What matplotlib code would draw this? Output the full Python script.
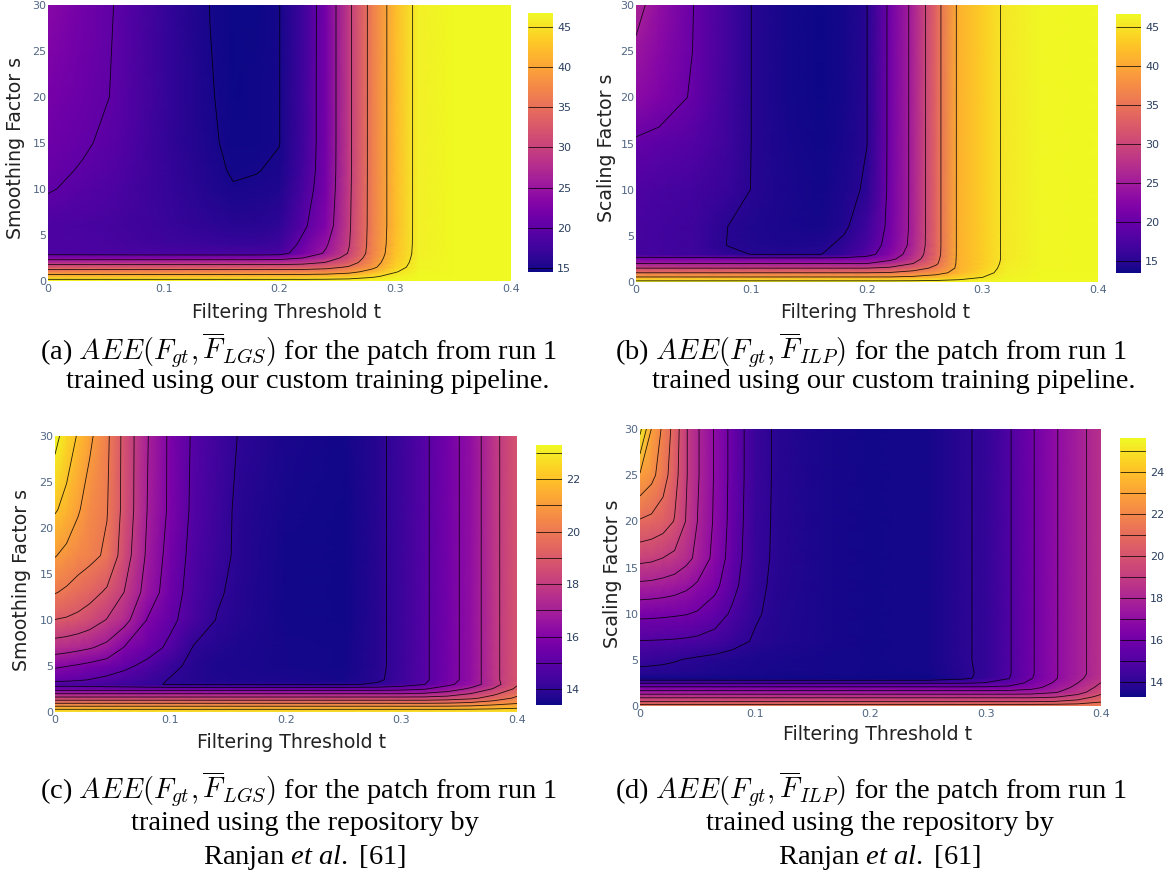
import numpy as np
import matplotlib
matplotlib.use("Agg")
import matplotlib.pyplot as plt

plt.rcParams['font.family'] = ['DejaVu Sans']
plt.rcParams['mathtext.rm'] = 'Liberation Serif'
plt.rcParams['mathtext.it'] = 'Liberation Serif:italic'
plt.rcParams['mathtext.bf'] = 'Liberation Serif:bold'

# ---------------- data: panel (a) ----------------
T_A = [0, 0.03, 0.06, 0.1, 0.14, 0.16, 0.18, 0.2, 0.22, 0.24, 0.26, 0.28, 0.3, 0.32, 0.35, 0.4]
S_A = [0, 0.5, 1, 1.5, 2, 2.5, 3, 4, 6, 10, 12, 15, 20, 30]
Z_A = [
    [46.7, 46.7, 46.7, 46.7, 46.7, 46.7, 46.7, 46.7, 46.7, 46.7, 46.7, 46.7, 46.7, 46.7, 46.7, 46.7],
    [42.0, 42.0, 42.0, 42.0, 42.0, 42.0, 42.0, 42.0, 42.0, 42.3, 43.0, 44.5, 46.0, 46.7, 46.7, 46.7],
    [37.3, 37.3, 37.3, 37.3, 37.3, 37.3, 37.3, 37.3, 37.3, 37.6, 38.7, 41.5, 44.8, 46.5, 46.7, 46.7],
    [32.6, 32.6, 32.6, 32.6, 32.6, 32.6, 32.6, 32.6, 32.8, 33.6, 35.5, 39.0, 43.8, 46.3, 46.7, 46.7],
    [28.0, 28.0, 28.0, 28.0, 28.0, 28.0, 28.0, 28.0, 28.6, 30.2, 33.0, 38.0, 43.2, 46.2, 46.7, 46.7],
    [23.3, 23.3, 23.3, 23.3, 23.3, 23.3, 23.3, 23.5, 25.0, 27.8, 31.5, 37.3, 42.8, 46.1, 46.7, 46.7],
    [18.7, 18.6, 18.5, 18.4, 18.3, 18.3, 18.3, 18.6, 22.0, 25.5, 30.3, 36.8, 42.5, 46.0, 46.7, 46.7],
    [18.6, 18.4, 18.2, 17.6, 17.2, 17.0, 17.0, 17.5, 20.8, 24.5, 29.8, 36.6, 42.2, 46.0, 46.7, 46.7],
    [18.6, 18.3, 18.0, 17.2, 16.3, 16.0, 16.0, 16.5, 19.3, 22.8, 29.5, 36.5, 42.0, 46.0, 46.7, 46.7],
    [20.2, 19.4, 18.5, 17.0, 15.6, 15.1, 15.2, 15.5, 18.2, 22.0, 29.3, 36.5, 42.0, 46.0, 46.7, 46.7],
    [20.6, 19.8, 18.9, 16.9, 15.4, 14.85, 14.95, 15.2, 17.8, 21.8, 29.2, 36.5, 42.0, 46.0, 46.7, 46.7],
    [21.2, 20.3, 19.3, 16.8, 15.2, 14.7, 14.75, 14.97, 17.6, 21.7, 29.2, 36.5, 42.0, 46.0, 46.7, 46.7],
    [22.0, 21.0, 19.7, 17.0, 15.1, 14.6, 14.65, 14.97, 17.6, 21.7, 29.2, 36.5, 42.0, 46.0, 46.7, 46.7],
    [23.5, 21.6, 19.8, 17.0, 14.97, 14.55, 14.6, 14.97, 17.5, 21.7, 29.2, 36.5, 42.0, 46.0, 46.7, 46.7],
]
LEVELS_A = [15, 20, 25, 30, 35, 40, 45]
CTICKS_A = [15, 20, 25, 30, 35, 40, 45]
RANGE_A = (14.5, 46.7)

# ---------------- data: panel (b) ----------------
T_B = [0, 0.02, 0.05, 0.08, 0.1, 0.13, 0.16, 0.18, 0.2, 0.22, 0.24, 0.26, 0.28, 0.3, 0.32, 0.35, 0.4]
S_B = [0, 0.5, 1, 1.5, 2, 2.5, 3, 4, 6, 10, 15, 20, 25, 30]
Z_B = [
    [46.5, 46.5, 46.5, 46.5, 46.5, 46.5, 46.5, 46.5, 46.5, 46.5, 46.5, 46.5, 46.5, 46.5, 46.6, 46.7, 46.7],
    [40.5, 40.5, 40.5, 40.5, 40.5, 40.5, 40.5, 40.5, 40.5, 40.5, 41.0, 42.0, 43.5, 45.0, 46.3, 46.7, 46.7],
    [35.0, 35.0, 35.0, 35.0, 35.0, 35.0, 35.0, 35.0, 35.0, 35.3, 36.5, 38.5, 41.5, 44.0, 46.0, 46.6, 46.7],
    [30.0, 30.0, 30.0, 30.0, 30.0, 30.0, 30.0, 30.0, 30.0, 30.8, 33.0, 36.0, 41.0, 43.5, 45.8, 46.5, 46.7],
    [25.0, 25.0, 25.0, 25.0, 25.0, 25.0, 25.0, 25.0, 25.0, 27.0, 30.0, 34.5, 41.0, 43.3, 45.6, 46.5, 46.7],
    [21.5, 21.5, 21.5, 21.5, 21.5, 21.5, 21.5, 21.5, 22.0, 24.0, 28.0, 34.0, 41.0, 43.2, 45.5, 46.5, 46.7],
    [17.2, 17.0, 16.5, 15.6, 14.95, 14.85, 14.95, 16.0, 18.5, 22.5, 27.0, 33.6, 41.0, 43.2, 45.5, 46.5, 46.7],
    [17.2, 17.0, 16.6, 14.9, 14.6, 14.4, 14.5, 15.5, 17.5, 21.5, 26.2, 33.5, 41.0, 43.2, 45.5, 46.5, 46.7],
    [17.3, 17.0, 16.5, 14.97, 14.5, 14.1, 14.0, 14.6, 16.5, 21.0, 26.0, 33.5, 41.0, 43.2, 45.5, 46.5, 46.7],
    [17.8, 17.5, 17.0, 16.0, 14.95, 14.2, 13.8, 14.3, 15.3, 20.8, 26.0, 33.5, 41.0, 43.2, 45.5, 46.5, 46.7],
    [19.5, 19.0, 18.2, 16.5, 14.98, 14.1, 13.7, 14.1, 14.98, 20.8, 26.0, 33.5, 41.0, 43.2, 45.5, 46.5, 46.7],
    [23.0, 21.8, 19.6, 16.7, 14.98, 14.0, 13.6, 14.0, 14.98, 20.8, 26.0, 33.5, 41.0, 43.2, 45.5, 46.5, 46.7],
    [24.5, 22.8, 19.9, 16.8, 14.98, 14.0, 13.6, 14.0, 14.98, 20.8, 26.0, 33.5, 41.0, 43.2, 45.5, 46.5, 46.7],
    [26.0, 23.5, 19.98, 16.8, 14.98, 14.0, 13.6, 14.0, 14.98, 20.8, 26.0, 33.5, 41.0, 43.2, 45.5, 46.5, 46.7],
]
LEVELS_B = [15, 20, 25, 30, 35, 40, 45]
CTICKS_B = [15, 20, 25, 30, 35, 40, 45]
RANGE_B = (13.5, 46.7)

# ---------------- data: panel (c) ----------------
T_C = [0, 0.01, 0.02, 0.03, 0.045, 0.06, 0.08, 0.1, 0.12, 0.14, 0.16, 0.2, 0.25, 0.28, 0.3, 0.32, 0.34, 0.36, 0.38, 0.4]
S_C = [0, 0.5, 1, 1.5, 2, 2.5, 3, 3.5, 5, 7, 10, 13, 17, 22, 30]
Z_C = [
    [22.85, 22.85, 22.85, 22.85, 22.85, 22.85, 22.85, 22.85, 22.85, 22.85, 22.85, 22.85, 22.85, 22.85, 22.85, 22.85, 22.85, 22.85, 22.85, 22.85],
    [21.4, 21.4, 21.4, 21.4, 21.4, 21.4, 21.4, 21.4, 21.4, 21.4, 21.4, 21.4, 21.4, 21.4, 21.4, 21.4, 21.4, 21.45, 21.6, 21.8],
    [19.83, 19.83, 19.83, 19.83, 19.83, 19.83, 19.83, 19.83, 19.83, 19.83, 19.83, 19.83, 19.83, 19.83, 19.83, 19.83, 19.9, 20.1, 20.5, 20.85],
    [18.35, 18.35, 18.35, 18.35, 18.35, 18.35, 18.35, 18.35, 18.35, 18.35, 18.35, 18.35, 18.35, 18.35, 18.35, 18.35, 18.5, 18.8, 19.4, 20.2],
    [16.97, 16.97, 16.97, 16.97, 16.97, 16.97, 16.97, 16.97, 16.97, 16.97, 16.97, 16.97, 16.97, 16.97, 16.97, 17.1, 17.4, 18.0, 18.8, 19.7],
    [15.6, 15.6, 15.6, 15.6, 15.6, 15.6, 15.6, 15.6, 15.6, 15.6, 15.6, 15.6, 15.6, 15.6, 15.7, 15.95, 16.5, 17.2, 18.1, 19.2],
    [14.6, 14.58, 14.55, 14.5, 14.4, 14.3, 14.1, 13.95, 13.9, 13.9, 13.9, 13.9, 13.9, 14.1, 14.5, 14.98, 15.8, 16.5, 17.6, 18.9],
    [15.25, 15.18, 15.1, 14.98, 14.8, 14.6, 14.3, 13.95, 13.8, 13.7, 13.65, 13.6, 13.55, 13.9, 14.3, 14.85, 15.6, 16.4, 17.73, 18.8],
    [16.15, 16.03, 15.9, 15.75, 15.5, 15.2, 14.75, 14.2, 13.8, 13.65, 13.6, 13.55, 13.5, 13.85, 14.28, 14.85, 15.6, 16.4, 17.73, 18.8],
    [17.5, 17.4, 17.25, 17.08, 16.75, 15.95, 15.4, 14.8, 13.95, 13.75, 13.65, 13.55, 13.5, 13.85, 14.28, 14.85, 15.6, 16.4, 17.73, 18.8],
    [18.98, 18.9, 18.75, 18.5, 17.95, 17.35, 15.95, 15.2, 14.55, 13.97, 13.75, 13.5, 13.45, 13.85, 14.28, 14.85, 15.6, 16.4, 17.73, 18.8],
    [20.05, 19.85, 19.6, 19.35, 18.85, 17.98, 16.6, 15.45, 14.6, 14.1, 13.8, 13.5, 13.45, 13.85, 14.28, 14.85, 15.6, 16.4, 17.73, 18.8],
    [21.05, 20.75, 20.45, 20.25, 19.85, 18.5, 16.83, 15.6, 14.7, 14.25, 13.85, 13.5, 13.45, 13.85, 14.28, 14.85, 15.6, 16.4, 17.73, 18.8],
    [22.1, 21.7, 21.1, 20.55, 20.05, 18.7, 16.98, 15.8, 14.8, 14.3, 13.85, 13.55, 13.45, 13.85, 14.28, 14.85, 15.6, 16.4, 17.73, 18.8],
    [23.3, 22.55, 21.9, 21.2, 20.2, 18.7, 17.05, 15.8, 14.86, 14.4, 13.95, 13.6, 13.5, 13.85, 14.28, 14.85, 15.6, 16.4, 17.73, 18.8],
]
LEVELS_C = [14, 15, 16, 17, 18, 19, 20, 21, 22, 23]
CTICKS_C = [14, 16, 18, 20, 22]
RANGE_C = (13.4, 23.3)

# ---------------- data: panel (d) ----------------
T_D = [0, 0.01, 0.02, 0.03, 0.04, 0.05, 0.065, 0.08, 0.1, 0.12, 0.16, 0.2, 0.25, 0.28, 0.3, 0.32, 0.34, 0.36, 0.38, 0.4]
S_D = [0, 0.5, 1, 1.5, 2, 2.5, 3, 3.5, 5, 7, 10, 13, 16, 20, 25, 30]
Z_D = [
    [21.6, 21.6, 21.6, 21.6, 21.6, 21.6, 21.6, 21.6, 21.6, 21.6, 21.6, 21.6, 21.6, 21.6, 21.6, 21.6, 21.6, 21.6, 21.6, 21.6],
    [19.9, 19.9, 19.9, 19.9, 19.9, 19.9, 19.9, 19.9, 19.9, 19.9, 19.9, 19.9, 19.9, 19.9, 19.9, 19.9, 19.9, 20.0, 20.3, 20.9],
    [18.75, 18.75, 18.75, 18.75, 18.75, 18.75, 18.75, 18.75, 18.75, 18.75, 18.75, 18.75, 18.75, 18.75, 18.75, 18.75, 18.75, 18.9, 19.4, 20.3],
    [17.4, 17.4, 17.4, 17.4, 17.4, 17.4, 17.4, 17.4, 17.4, 17.4, 17.4, 17.4, 17.4, 17.4, 17.4, 17.4, 17.5, 17.9, 18.6, 19.7],
    [16.2, 16.2, 16.2, 16.2, 16.2, 16.2, 16.2, 16.2, 16.2, 16.2, 16.2, 16.2, 16.2, 16.2, 16.2, 16.3, 16.7, 17.4, 18.3, 19.3],
    [14.9, 14.9, 14.9, 14.9, 14.9, 14.9, 14.9, 14.9, 14.9, 14.9, 14.9, 14.9, 14.9, 14.9, 15.05, 15.4, 16.3, 17.1, 18.0, 19.02],
    [13.4, 13.4, 13.4, 13.4, 13.4, 13.4, 13.38, 13.36, 13.35, 13.35, 13.33, 13.33, 13.33, 13.8, 14.3, 14.97, 15.97, 16.9, 17.8, 18.6],
    [13.75, 13.74, 13.72, 13.7, 13.68, 13.65, 13.6, 13.55, 13.5, 13.47, 13.45, 13.4, 13.4, 13.85, 14.15, 14.9, 15.9, 16.9, 17.7, 18.5],
    [14.25, 14.2, 14.15, 14.06, 13.95, 13.85, 13.75, 13.65, 13.55, 13.5, 13.45, 13.4, 13.45, 13.9, 14.15, 14.9, 15.9, 16.9, 17.7, 18.5],
    [14.96, 14.95, 14.93, 14.9, 14.85, 14.78, 14.6, 14.3, 13.9, 13.7, 13.5, 13.4, 13.45, 13.9, 14.15, 14.9, 15.9, 16.9, 17.7, 18.5],
    [16.25, 16.22, 16.18, 16.12, 16.05, 15.9, 15.5, 14.85, 14.1, 13.75, 13.5, 13.4, 13.45, 13.9, 14.15, 14.9, 15.9, 16.9, 17.7, 18.5],
    [17.75, 17.7, 17.6, 17.45, 17.2, 16.85, 16.25, 15.3, 14.2, 13.8, 13.5, 13.4, 13.45, 13.9, 14.15, 14.9, 15.9, 16.9, 17.7, 18.5],
    [19.3, 19.2, 18.98, 18.75, 18.3, 17.75, 16.7, 15.55, 14.25, 13.85, 13.5, 13.4, 13.45, 13.9, 14.15, 14.9, 15.9, 16.9, 17.7, 18.5],
    [20.9, 20.75, 20.5, 19.95, 18.95, 17.98, 16.85, 15.65, 14.3, 13.85, 13.5, 13.4, 13.45, 13.9, 14.15, 14.9, 15.9, 16.9, 17.7, 18.5],
    [22.9, 22.3, 21.45, 20.4, 19.1, 18.1, 16.9, 15.7, 14.35, 13.85, 13.5, 13.4, 13.45, 13.9, 14.15, 14.9, 15.9, 16.9, 17.7, 18.5],
    [25.3, 22.95, 21.8, 20.6, 19.1, 18.1, 16.9, 15.7, 14.35, 13.85, 13.5, 13.4, 13.45, 13.9, 14.15, 14.9, 15.9, 16.9, 17.7, 18.5],
]
LEVELS_D = [14, 15, 16, 17, 18, 19, 20, 21, 22, 23, 24, 25]
CTICKS_D = [14, 16, 18, 20, 22, 24]
RANGE_D = (13.3, 25.6)

X_TICKS = [0, 0.1, 0.2, 0.3, 0.4]
X_TICKLABELS = ['0', '0.1', '0.2', '0.3', '0.4']
Y_TICKS = [0, 5, 10, 15, 20, 25, 30]
XLABEL = 'Filtering Threshold t'
YLABELS = ['Smoothing Factor s', 'Scaling Factor s', 'Smoothing Factor s', 'Scaling Factor s']

CAPTIONS = [
    [r'(a) $AEE(F_{gt},\overline{F}_{LGS})$ for the patch from run 1',
     'trained using our custom training pipeline.'],
    [r'(b) $AEE(F_{gt},\overline{F}_{ILP})$ for the patch from run 1',
     'trained using our custom training pipeline.'],
    [r'(c) $AEE(F_{gt},\overline{F}_{LGS})$ for the patch from run 1',
     'trained using the repository by',
     r'Ranjan $\mathit{et\ al.}$ [61]'],
    [r'(d) $AEE(F_{gt},\overline{F}_{ILP})$ for the patch from run 1',
     'trained using the repository by',
     r'Ranjan $\mathit{et\ al.}$ [61]'],
]

# ---------------- layout (pixels) ----------------
W, H = 1176, 876
fig = plt.figure(figsize=(W / 100, H / 100), dpi=100)
fig.patch.set_facecolor('white')


def box(x0, y0, x1, y1):
    return [x0 / W, 1 - y1 / H, (x1 - x0) / W, (y1 - y0) / H]


panels = [
    dict(T=T_A, S=S_A, Z=Z_A, lv=LEVELS_A, ct=CTICKS_A, rng=RANGE_A,
         ax=(48, 5, 511, 281), cb=(528, 13, 553, 272), yl=YLABELS[0],
         xlab=(287, 312), ylab=(16, 148)),
    dict(T=T_B, S=S_B, Z=Z_B, lv=LEVELS_B, ct=CTICKS_B, rng=RANGE_B,
         ax=(636, 5, 1098, 282), cb=(1116, 14, 1141, 273), yl=YLABELS[1],
         xlab=(876, 312), ylab=(607, 148)),
    dict(T=T_C, S=S_C, Z=Z_C, lv=LEVELS_C, ct=CTICKS_C, rng=RANGE_C,
         ax=(55, 436, 517, 712), cb=(536, 445, 562, 705), yl=YLABELS[2],
         xlab=(292, 742), ylab=(22, 580)),
    dict(T=T_D, S=S_D, Z=Z_D, lv=LEVELS_D, ct=CTICKS_D, rng=RANGE_D,
         ax=(640, 429, 1101, 706), cb=(1120, 438, 1146, 697), yl=YLABELS[3],
         xlab=(878, 735), ylab=(612, 574)),
]

TICKC = '#506784'
for p in panels:
    ax = fig.add_axes(box(*p['ax']))
    Z = np.array(p['Z'])
    vmin, vmax = p['rng']
    m = ax.pcolormesh(p['T'], p['S'], Z, shading='gouraud', cmap='plasma',
                      vmin=vmin, vmax=vmax)
    cs = ax.contour(p['T'], p['S'], Z, levels=p['lv'], colors='black',
                    linewidths=0.6, alpha=0.85)
    ax.set_xlim(0, 0.4)
    ax.set_ylim(0, 30)
    for sp in ax.spines.values():
        sp.set_visible(False)
    ax.set_xticks(X_TICKS)
    ax.set_xticklabels(X_TICKLABELS)
    ax.set_yticks(Y_TICKS)
    ax.tick_params(length=0, labelsize=8, labelcolor=TICKC, pad=2)
    ax.tick_params(axis='y', pad=1)
    xl, yl_ = p['xlab']
    fig.text(xl / W, 1 - yl_ / H, XLABEL, fontsize=13.6, color='#222222',
             ha='center', va='center')
    yx, yy = p['ylab']
    fig.text(yx / W, 1 - yy / H, p['yl'], fontsize=13.6, color='#222222',
             ha='center', va='center', rotation=90)

    cax = fig.add_axes(box(*p['cb']))
    cb = fig.colorbar(m, cax=cax, ticks=p['ct'])
    cb.add_lines(cs)
    cb.outline.set_visible(False)
    cax.tick_params(length=0, labelsize=8, labelcolor='#2a3f5f', pad=3)

# ---------------- captions ----------------
CAPF = 20.5
cap_pos = [
    [(40, 350, 'left'), (66, 382, 'left')],
    [(615, 350, 'left'), (652, 382, 'left')],
    [(40, 789, 'left'), (305, 823, 'center'), (305, 857, 'center')],
    [(615, 789, 'left'), (880, 823, 'center'), (880, 857, 'center')],
]
for lines, pos in zip(CAPTIONS, cap_pos):
    for txt, (x, y, ha) in zip(lines, pos):
        mf = 'custom' if 'mathit' in txt else 'cm'
        fig.text(x / W, 1 - y / H, txt, fontsize=CAPF, family='Liberation Serif',
                 ha=ha, va='center', math_fontfamily=mf, color='black')

fig.savefig('out.png', dpi=100, facecolor='white')
